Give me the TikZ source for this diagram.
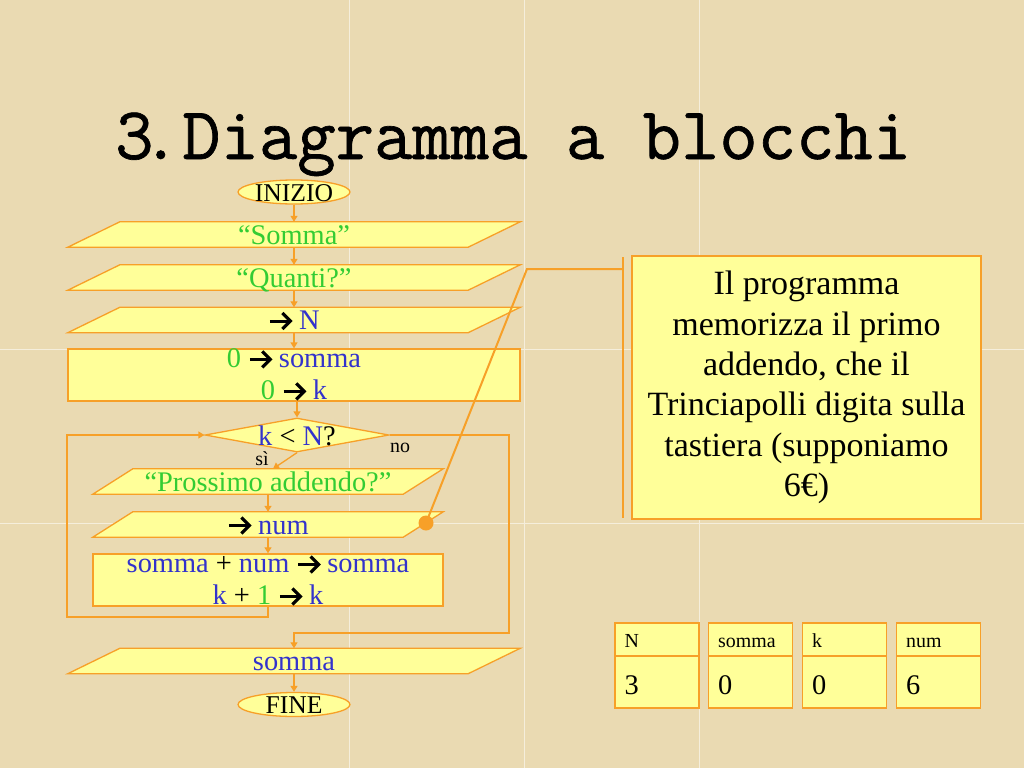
\documentclass[tikz,border=0pt]{standalone}
\usepackage{fontspec}
\setmainfont{Liberation Serif}
\newfontfamily\titlef{Latin Modern Mono}[FakeBold=0.9]
\usetikzlibrary{shapes.geometric,arrows.meta,calc}
\definecolor{bgc}{RGB}{234,218,178}
\definecolor{fillc}{RGB}{255,255,153}
\definecolor{orc}{RGB}{247,160,40}
\definecolor{grn}{RGB}{51,204,51}
\definecolor{blu}{RGB}{51,51,204}
\newcommand\rarr{\tikz[x=1pt,y=1pt,baseline=0pt]{\draw[black, line width=3pt, line cap=butt] (0,8.5) -- (20,8.5); \draw[black, line width=3.2pt, line join=miter, line cap=butt] (12.5,16.5) -- (20.5,8.5) -- (12.5,0.5);}}
\newcommand\zb[2]{\raisebox{-#1}[0pt][0pt]{\makebox[0pt]{#2}}}
\newcommand\fsz{\fontsize{28.4}{32}\selectfont}
\newcommand\para[2]{\filldraw[shp] ($(#1.north west)+(#2,0)$) -- (#1.north east) -- ($(#1.south east)-(#2,0)$) -- (#1.south west) -- cycle;}
\pgfdeclarelayer{bglayer}
\pgfdeclarelayer{shapelayer}
\pgfsetlayers{bglayer,shapelayer,main}
\begin{document}
\begin{tikzpicture}[x=1pt,y=-1pt,
  shp/.style={fill=fillc, draw=orc, line width=1.3pt},
  io/.style={inner sep=0pt, minimum height=25pt, text height=22pt, text depth=3pt, font=\fsz},
  procbox/.style={shp, inner sep=0pt, minimum height=52pt, align=center, font=\fsz},
  term/.style={shp, ellipse, inner sep=0pt, minimum width=112pt, minimum height=24pt, font=\fontsize{25.6}{28}\selectfont},
  arr/.style={draw=orc, line width=1.3pt, -{Triangle[width=7pt,length=6pt]}},
  cl/.style={draw=orc, line width=2pt},
  varbox/.style={shp, line width=1.2pt, inner sep=0pt, minimum width=84pt},
  vlab/.style={inner sep=0pt, font=\fontsize{19.9}{22}\selectfont},
  vval/.style={inner sep=0pt, font=\fontsize{28.4}{32}\selectfont},
  small/.style={inner sep=0pt, font=\fontsize{19.9}{22}\selectfont},
  ttl/.style={inner sep=0pt, anchor=base west, font=\titlef\fontsize{74.5}{78}\selectfont}]
\useasboundingbox (0,0) rectangle (1024,768);
\begin{pgfonlayer}{bglayer}
  \fill[bgc] (0,0) rectangle (1024,768);
  \draw[white, opacity=0.55, line width=1pt] (349,0) -- (349,768) (524,0) -- (524,768) (699,0) -- (699,768)
     (0,349) -- (1024,349) (0,523) -- (1024,523);
\end{pgfonlayer}

% title
\node[ttl] (tnum) at (115,159) {3\kern-12pt.};
\node[ttl] (title) at (182,159) {Diagramma a blocchi};

% flowchart
\node[term] (ini) at (294,192) {\zb{9pt}{INIZIO}};
\node[io, minimum width=452pt] (s1) at (294,234.5) {\color{grn}“Somma”};
\node[io, minimum width=452pt] (s2) at (294,277.5) {\color{grn}“Quanti?”};
\node[io, minimum width=452pt] (s3) at (294,320) {\rarr{} \color{blu}N};
\node[procbox, minimum width=452pt] (r1) at (294,375) {{\color{grn}0} \rarr{} {\color{blu}somma}\\{\color{grn}0} \rarr{} {\color{blu}k}};
\node[shp, diamond, inner sep=0pt, minimum width=184pt, minimum height=34pt, font=\fsz] (dia) at (297,435) {\zb{10pt}{{\color{blu}k} < {\color{blu}N}?}};
\node[io, minimum width=350pt] (pr) at (268,481.5) {\color{grn}“Prossimo addendo?”};
\node[io, minimum width=350pt] (nm) at (268,524.5) {\rarr{} \color{blu}num};
\node[procbox, minimum width=350pt] (r2) at (268,580) {\rule{0pt}{19pt}{\color{blu}somma} + {\color{blu}num} \rarr{} {\color{blu}somma}\\{\color{blu}k} + {\color{grn}1} \rarr{} {\color{blu}k}};
\node[io, minimum width=452pt] (out) at (294,661) {\color{blu}somma};
\node[term] (fin) at (294,704.5) {\zb{8.5pt}{FINE}};

\node[small, anchor=base] (no) at (400,452) {no};
\node[small, anchor=base] (si) at (262,465) {sì};

\begin{pgfonlayer}{shapelayer}
  \para{s1}{52}
  \para{s2}{52}
  \para{s3}{52}
  \para{pr}{40}
  \para{nm}{40}
  \para{out}{52}
\end{pgfonlayer}

\coordinate (lp) at (67,617);
\coordinate (np) at (509,633);
\draw[arr] (ini) -- (s1);
\draw[arr] (s1) -- (s2);
\draw[arr] (s2) -- (s3);
\draw[arr] (s3) -- (r1);
\draw[arr] (r1.south -| dia.north) -- (dia.north);
\draw[arr] (dia.south) -- ([xshift=5pt]pr.north);
\draw[arr] (pr) -- (nm);
\draw[arr] (nm) -- (r2);
\draw[arr] (r2.south) |- (lp) |- (dia.west);
\draw[arr] (dia.east) -| (np) -| (out.north);
\draw[arr] (out) -- (fin);

% callout
\node[shp, line width=2.5pt, minimum width=349pt, minimum height=263pt, inner sep=0pt, align=center,
      font=\fontsize{34}{40.4}\selectfont] (call) at (806.5,387.5)
  {Il programma\\memorizza il primo\\addendo, che il\\Trinciapolli digita sulla\\tastiera (supponiamo\\6€)};
\coordinate (dot) at (426,523);
\coordinate (lk) at (527,269);
\coordinate (lend) at (623,269);
\coordinate (bt) at (623,257);
\coordinate (bb) at (623,518);
\draw[cl] (dot) -- (lk) -- (lend);
\draw[cl, line width=2.5pt] (bt) -- (bb);
\fill[orc] (dot) circle (7.5);

% variable boxes
\node[varbox, minimum height=33pt] (vh1) at (657,639.5) {};
\node[varbox, minimum height=52pt] (vv1) at (657,682) {};
\node[varbox, minimum height=33pt] (vh2) at (750.5,639.5) {};
\node[varbox, minimum height=52pt] (vv2) at (750.5,682) {};
\node[varbox, minimum height=33pt] (vh3) at (844.5,639.5) {};
\node[varbox, minimum height=52pt] (vv3) at (844.5,682) {};
\node[varbox, minimum height=33pt] (vh4) at (938.5,639.5) {};
\node[varbox, minimum height=52pt] (vv4) at (938.5,682) {};
\node[vlab, anchor=base west] (l1) at ($(vh1.west)+(10,7.5)$) {N};
\node[vlab, anchor=base west] (l2) at ($(vh2.west)+(10,7.5)$) {somma};
\node[vlab, anchor=base west] (l3) at ($(vh3.west)+(10,7.5)$) {k};
\node[vlab, anchor=base west] (l4) at ($(vh4.west)+(10,7.5)$) {num};
\node[vval, anchor=base west] (v1) at ($(vv1.west)+(10,12)$) {3};
\node[vval, anchor=base west] (v2) at ($(vv2.west)+(10,12)$) {0};
\node[vval, anchor=base west] (v3) at ($(vv3.west)+(10,12)$) {0};
\node[vval, anchor=base west] (v4) at ($(vv4.west)+(10,12)$) {6};
\end{tikzpicture}
\end{document}
